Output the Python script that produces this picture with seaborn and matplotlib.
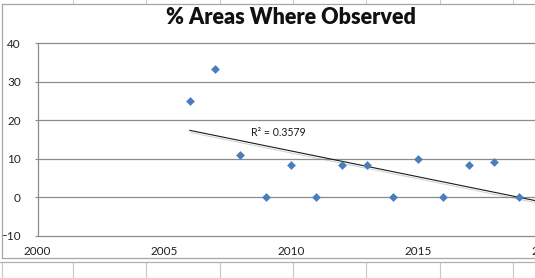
import numpy as np
import pandas as pd
import matplotlib
matplotlib.use("Agg")
import matplotlib.pyplot as plt
import matplotlib.patheffects as pe
from matplotlib.lines import Line2D
import seaborn as sns

# ---- data ----
years = [2006, 2007, 2008, 2009, 2010, 2011, 2012, 2013, 2014, 2015, 2016, 2017, 2018, 2019]
pct_observed = [25.0, 33.3, 11.1, 0.0, 8.3, 0.0, 8.3, 8.3, 0.0, 10.0, 0.0, 8.3, 9.1, 0.0]
x_ticks = [2000, 2005, 2010, 2015, 2020]
y_ticks = [-10, 0, 10, 20, 30, 40]
title = "% Areas Where Observed"
r2_label = "R\u00b2 = 0.3579"

sns.set_theme(style="white")
plt.rcParams["font.family"] = ["Lato", "DejaVu Sans"]

W, H = 535, 278
fig = plt.figure(figsize=(W / 100, H / 100), dpi=100)
fig.patch.set_facecolor("white")

def fx(px):
    return px / W

def fy(py):
    return 1 - py / H

cell_c = "#c8c8c8"
# spreadsheet cell grid outside the chart
for cx in [73, 146, 220, 293, 366, 440, 513]:
    fig.add_artist(Line2D([fx(cx), fx(cx)], [fy(0), fy(3.5)], color=cell_c, lw=0.8))
    fig.add_artist(Line2D([fx(cx), fx(cx)], [fy(262), fy(278)], color=cell_c, lw=0.8))
fig.add_artist(Line2D([fx(2), fx(2)], [fy(262), fy(278)], color=cell_c, lw=0.8))
fig.add_artist(Line2D([0, 1], [fy(262), fy(262)], color="#b0b0b0", lw=0.9))
# chart border
border_c = "#a6a6a6"
fig.add_artist(Line2D([fx(2), 1.01], [fy(3.8), fy(3.8)], color=border_c, lw=0.9))
fig.add_artist(Line2D([fx(2), 1.01], [fy(258), fy(258)], color=border_c, lw=0.9))
fig.add_artist(Line2D([fx(2), fx(2)], [fy(3.8), fy(258)], color=border_c, lw=0.9))

ax = fig.add_axes([37.5 / W, 1 - 236 / H, (544.7 - 37.5) / W, (236 - 43) / H])
ax.set_facecolor("none")

df = pd.DataFrame({"year": years, "pct": pct_observed})
sns.scatterplot(data=df, x="year", y="pct", ax=ax, marker="D", s=20,
                color="#4A7EBB", linewidth=0, zorder=4)

# linear trend line (fitted from the data), with a soft shadow
slope, intercept = np.polyfit(years, pct_observed, 1)
tx = np.array([years[0], 2020.8])
ty = slope * tx + intercept
ax.plot(tx, ty, color="#1a1a1a", lw=0.8, zorder=3,
        path_effects=[pe.SimpleLineShadow(offset=(0.8, -1.6), shadow_color="#909090", alpha=0.4),
                      pe.Normal()])

ax.text(2008.4, 16.9, r2_label, fontsize=7.6, color="#1a1a1a", va="center", ha="left")

ax.set_xlim(2000, 2020)
ax.set_ylim(-10, 40)
ax.set_xticks(x_ticks)
ax.set_yticks(y_ticks)
ax.set_xlabel("")
ax.set_ylabel("")

grid_c = "#8c8c8c"
for v in y_ticks[1:-1]:
    ax.axhline(v, color=grid_c, lw=0.9, zorder=1)
for side in ["left", "top", "bottom"]:
    ax.spines[side].set_visible(True)
    ax.spines[side].set_color(grid_c)
    ax.spines[side].set_linewidth(0.9)
ax.spines["right"].set_visible(False)

ax.tick_params(axis="y", left=True, length=2.5, width=0.8, color=grid_c, pad=9.5,
               labelsize=8.5, labelcolor="#222222")
ax.tick_params(axis="x", bottom=False, length=0, pad=7.5, labelsize=8.5, labelcolor="#222222")

fig.text(fx(291), fy(17), title, ha="center", va="center", fontsize=15.5,
         fontweight="heavy", color="#111111")

fig.savefig("out.png", dpi=100)
